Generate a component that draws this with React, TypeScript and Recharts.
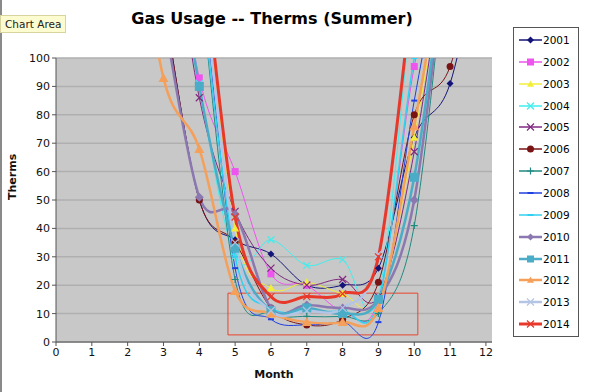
import React from 'react'
import { LineChart, Line, XAxis, YAxis, CartesianGrid, ReferenceArea } from 'recharts'

// months on the x axis (values above 100 run off the top, as in the sheet)
const MONTHS = [2, 3, 4, 5, 6, 7, 8, 9, 10, 11, 12]
const X_TICKS = [0, 1, 2, 3, 4, 5, 6, 7, 8, 9, 10, 11, 12]
const Y_TICKS = [0, 10, 20, 30, 40, 50, 60, 70, 80, 90, 100]

const Y2001 = [null, 120, 50, 36, 31, 20, 20, 26, 72, 91, 150]
const Y2002 = [null, 170, 93, 60, 24, 20, 11, 15, 97, 150, null]
const Y2003 = [null, null, 150, 40, 19, 21, 17, 15, 72, 150, null]
const Y2004 = [null, 170, 91, 30, 36, 27, 29, 16, 130, null, null]
const Y2005 = [null, 170, 86, 46, 26, 20, 22, 16, 67, 150, null]
const Y2006 = [null, 120, 50, 35, 12, 6, 8, 21, 80, 97, 150]
const Y2007 = [null, null, 130, 22, 10, 9, 9, 10, 41, 150, null]
const Y2008 = [null, null, 140, 26, 8, 6, 7, 7, 85, 150, null]
const Y2009 = [null, null, 130, 30, 12, 11, 11, 14, 100, 150, null]
const Y2010 = [null, 115, 51, 45, 12, 13, 12, 15, 50, 150, null]
const Y2011 = [null, 170, 90, 33, 11, 12, 10, 15, 58, 150, null]
const Y2012 = [170, 93, 68, 18, 10, 7, 7, 12, 76, 150, null]
const Y2013 = [null, null, 140, 35, 11, 11, 12, 31, 130, null, null]
const Y2014 = [null, null, 150, 44, 16, 16, 17, 30, 130, null, null]

type Shape = 'diamond' | 'square' | 'triangle' | 'x' | 'circle' | 'plus' | 'dash'

const SERIES: { name: string; values: (number | null)[]; color: string; width: number; shape: Shape; size: number }[] = [
  { name: '2001', values: Y2001, color: '#141478', width: 1, shape: 'diamond', size: 3.5 },
  { name: '2002', values: Y2002, color: '#ee55ee', width: 1, shape: 'square', size: 3.5 },
  { name: '2003', values: Y2003, color: '#f2ee3a', width: 1, shape: 'triangle', size: 4 },
  { name: '2004', values: Y2004, color: '#3feeee', width: 1, shape: 'x', size: 3.5 },
  { name: '2005', values: Y2005, color: '#802a80', width: 1, shape: 'x', size: 3.5 },
  { name: '2006', values: Y2006, color: '#7a1414', width: 1, shape: 'circle', size: 3.5 },
  { name: '2007', values: Y2007, color: '#1f8a80', width: 1, shape: 'plus', size: 3.5 },
  { name: '2008', values: Y2008, color: '#2040e0', width: 1, shape: 'dash', size: 3 },
  { name: '2009', values: Y2009, color: '#30d0f0', width: 1.5, shape: 'dash', size: 3 },
  { name: '2010', values: Y2010, color: '#8b78b0', width: 2.5, shape: 'diamond', size: 4.5 },
  { name: '2011', values: Y2011, color: '#4aacc6', width: 2.5, shape: 'square', size: 4.5 },
  { name: '2012', values: Y2012, color: '#f5a05a', width: 2.5, shape: 'triangle', size: 5 },
  { name: '2013', values: Y2013, color: '#b4c4e4', width: 2.5, shape: 'x', size: 4 },
  { name: '2014', values: Y2014, color: '#e8382a', width: 3, shape: 'x', size: 3.5 },
]

const rows = MONTHS.map((m, i) => {
  const row: Record<string, number | null> = { month: m }
  SERIES.forEach((s) => (row[s.name] = s.values[i]))
  return row
})

// Excel-style smoothing: bezier through every point, tangent = (next - prev) / 6
function excelCurve(context: any) {
  let pts: [number, number][] = []
  return {
    areaStart() {},
    areaEnd() {},
    lineStart() {
      pts = []
    },
    point(x: number, y: number) {
      pts.push([+x, +y])
    },
    lineEnd() {
      if (!pts.length) return
      context.moveTo(pts[0][0], pts[0][1])
      for (let i = 0; i < pts.length - 1; i++) {
        const p0 = pts[i - 1] ?? pts[i]
        const p1 = pts[i]
        const p2 = pts[i + 1]
        const p3 = pts[i + 2] ?? p2
        context.bezierCurveTo(
          p1[0] + (p2[0] - p0[0]) / 6,
          p1[1] + (p2[1] - p0[1]) / 6,
          p2[0] - (p3[0] - p1[0]) / 6,
          p2[1] - (p3[1] - p1[1]) / 6,
          p2[0],
          p2[1],
        )
      }
    },
  }
}

function Marker({ shape, cx, cy, color, s }: { shape: Shape; cx: number; cy: number; color: string; s: number }) {
  switch (shape) {
    case 'diamond':
      return <polygon points={`${cx},${cy - s} ${cx + s},${cy} ${cx},${cy + s} ${cx - s},${cy}`} fill={color} />
    case 'square':
      return <rect x={cx - s} y={cy - s} width={s * 2} height={s * 2} fill={color} />
    case 'triangle':
      return <polygon points={`${cx},${cy - s} ${cx + s},${cy + s * 0.8} ${cx - s},${cy + s * 0.8}`} fill={color} />
    case 'circle':
      return <circle cx={cx} cy={cy} r={s} fill={color} />
    case 'x':
      return (
        <path d={`M${cx - s},${cy - s}L${cx + s},${cy + s}M${cx - s},${cy + s}L${cx + s},${cy - s}`} stroke={color} strokeWidth={1.2} />
      )
    case 'plus':
      return <path d={`M${cx - s},${cy}L${cx + s},${cy}M${cx},${cy - s}L${cx},${cy + s}`} stroke={color} strokeWidth={1.2} />
    default:
      return <path d={`M${cx - s},${cy}L${cx + s},${cy}`} stroke={color} strokeWidth={2} />
  }
}

const FONT = '"DejaVu Sans", Verdana, sans-serif'

function LegendBox() {
  return (
    <div
      style={{
        position: 'absolute',
        left: 513,
        top: 27,
        width: 64,
        height: 308,
        border: '1px solid #555',
        background: '#fff',
        fontFamily: FONT,
        fontSize: 10.5,
      }}
    >
      {SERIES.map((s, i) => (
        <div key={s.name} style={{ position: 'absolute', left: 5, top: 3 + i * 21.85, height: 18, display: 'flex', alignItems: 'center' }}>
          <svg width={23} height={12}>
            <line x1={0} y1={6} x2={23} y2={6} stroke={s.color} strokeWidth={Math.max(s.width, 1.5)} />
            <Marker shape={s.shape} cx={11.5} cy={6} color={s.color} s={Math.min(s.size, 3.5)} />
          </svg>
          <span style={{ marginLeft: 1 }}>{s.name}</span>
        </div>
      ))}
    </div>
  )
}

export default function App() {
  return (
    <div style={{ position: 'fixed', left: 0, top: 0, width: 589, height: 392, background: '#fff', overflow: 'hidden' }}>
      <div style={{ position: 'absolute', left: 0, top: 0, width: 2, height: 392, background: '#8a8a8a' }} />
      <div
        style={{
          position: 'absolute',
          left: 122,
          top: 9,
          width: 300,
          textAlign: 'center',
          fontFamily: FONT,
          fontWeight: 'bold',
          fontSize: 16,
        }}
      >
        Gas Usage -- Therms (Summer)
      </div>
      <LineChart width={589} height={392} data={rows} margin={{ top: 58, right: 97, bottom: 18, left: 0 }} style={{ fontFamily: FONT }}>
        <CartesianGrid vertical={false} fill="#c8c8c8" stroke="#afafaf" strokeWidth={1.5} />
        <XAxis
          dataKey="month"
          type="number"
          domain={[0, 12.17]}
          ticks={X_TICKS}
          allowDataOverflow
          stroke="#555"
          tickSize={4}
          tick={{ fontSize: 11, fill: '#111' }}
          height={32}
          label={{ value: 'Month', position: 'insideBottom', offset: -4, fontSize: 11, fontWeight: 'bold', fill: '#111' }}
        />
        <YAxis
          type="number"
          domain={[0, 100]}
          ticks={Y_TICKS}
          allowDataOverflow
          width={56}
          stroke="#555"
          tickSize={4}
          tick={{ fontSize: 11, fill: '#111' }}
          label={{ value: 'Therms', angle: -90, position: 'insideLeft', offset: 12, fontSize: 11, fontWeight: 'bold', fill: '#111' }}
        />
        {SERIES.map((s) => (
          <Line
            key={s.name}
            dataKey={s.name}
            type={excelCurve as any}
            stroke={s.color}
            strokeWidth={s.width}
            isAnimationActive={false}
            dot={(p: any) =>
              p.cx == null || p.cy == null || p.value == null ? (
                <g key={`${s.name}-${p.index}`} />
              ) : (
                <g key={`${s.name}-${p.index}`}>
                  <Marker shape={s.shape} cx={p.cx} cy={p.cy} color={s.color} s={s.size} />
                </g>
              )
            }
            activeDot={false}
          />
        ))}
        <ReferenceArea x1={4.8} x2={10.1} y1={2.5} y2={17.2} fill="none" stroke="#e8452f" strokeWidth={1} />
      </LineChart>
      <LegendBox />
      <div
        style={{
          position: 'absolute',
          left: 0,
          top: 15,
          padding: '2px 4px',
          background: '#fdfbd0',
          border: '1px solid #d8d4a0',
          fontFamily: FONT,
          fontSize: 10.5,
          color: '#222',
        }}
      >
        Chart Area
      </div>
    </div>
  )
}
